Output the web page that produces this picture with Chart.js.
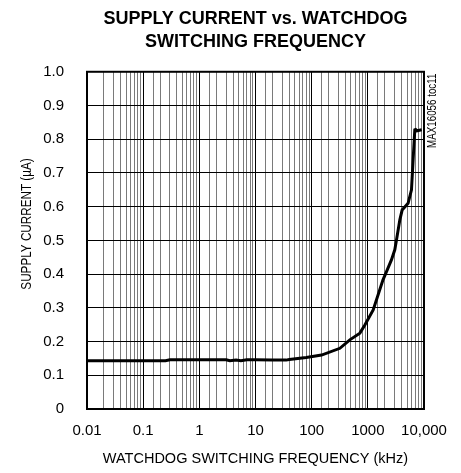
<!DOCTYPE html>
<html>
<head>
<meta charset="utf-8">
<script src="https://cdn.jsdelivr.net/npm/chart.js@4/dist/chart.umd.min.js"></script>
<style>
html,body{margin:0;padding:0;background:#fff;}
#wrap{width:461px;height:473px;position:relative;}
</style>
</head>
<body>
<div id="wrap"><canvas id="c" width="461" height="473"></canvas></div>
<script>
// ---- data ----
const frequencyKHz = [0.01, 0.03, 0.1, 0.25, 0.3, 1, 3, 3.5, 4.5, 5.5, 7, 10, 20, 35, 40, 80, 150, 318, 478, 721, 885, 1245, 1862, 2207, 2630, 3020, 3236, 3715, 4080, 5210, 5985, 6400, 6860, 7100, 7500, 9100];
const supplyCurrentUA = [0.143, 0.143, 0.143, 0.143, 0.146, 0.146, 0.146, 0.143, 0.145, 0.143, 0.146, 0.146, 0.145, 0.145, 0.147, 0.153, 0.160, 0.180, 0.205, 0.225, 0.249, 0.294, 0.383, 0.412, 0.442, 0.472, 0.501, 0.561, 0.590, 0.610, 0.650, 0.739, 0.828, 0.829, 0.825, 0.828];
const xDecades = [0.01, 0.1, 1, 10, 100, 1000, 10000];
const xTickLabels = ['0.01', '0.1', '1', '10', '100', '1000', '10,000'];
const yTickLabels = ['0', '0.1', '0.2', '0.3', '0.4', '0.5', '0.6', '0.7', '0.8', '0.9', '1.0'];
const chartTitle = ['SUPPLY CURRENT vs. WATCHDOG', 'SWITCHING FREQUENCY'];
const xTitle = 'WATCHDOG SWITCHING FREQUENCY (kHz)';
const yTitle = 'SUPPLY CURRENT (\u00b5A)';
const sideNote = 'MAX16056 toc11';

const REG = '"Liberation Sans", Arial, sans-serif';

function decadeIndex(v) {
  for (let i = 0; i < xDecades.length; i++) {
    if (Math.abs(v / xDecades[i] - 1) < 1e-6) return i;
  }
  return -1;
}

const framePlugin = {
  id: 'frame',
  afterDatasetsDraw(chart) {
    const a = chart.chartArea, ctx = chart.ctx;
    ctx.save();
    ctx.strokeStyle = '#000';
    ctx.lineWidth = 2;
    ctx.strokeRect(a.left, a.top, a.right - a.left, a.bottom - a.top);
    ctx.restore();
  },
  afterDraw(chart) {
    const a = chart.chartArea, ctx = chart.ctx;
    // y axis title (condensed along its length)
    ctx.save();
    ctx.fillStyle = '#000';
    ctx.translate(27, 224);
    ctx.rotate(-Math.PI / 2);
    ctx.scale(0.78, 1);
    ctx.textAlign = 'center';
    ctx.textBaseline = 'middle';
    ctx.font = '15px ' + REG;
    ctx.fillText(yTitle, 0, 0);
    ctx.restore();
    // side note
    ctx.save();
    ctx.fillStyle = '#000';
    ctx.translate(a.right + 8.5, a.top + 39);
    ctx.rotate(-Math.PI / 2);
    ctx.scale(0.815, 1);
    ctx.textAlign = 'center';
    ctx.textBaseline = 'middle';
    ctx.font = '12px ' + REG;
    ctx.fillText(sideNote, 0, 0);
    ctx.restore();
  }
};

new Chart(document.getElementById('c'), {
  type: 'line',
  data: {
    datasets: [{
      data: frequencyKHz.map((f, i) => ({x: f, y: supplyCurrentUA[i]})),
      borderColor: '#000',
      borderWidth: 3,
      pointRadius: 0,
      tension: 0,
      fill: false
    }]
  },
  options: {
    responsive: false,
    animation: false,
    layout: {padding: {left: 0, right: 37, top: 0, bottom: 0}},
    plugins: {
      legend: {display: false},
      tooltip: {enabled: false},
      title: {
        display: true,
        text: chartTitle,
        fullSize: false,
        color: '#000',
        font: {family: REG, weight: 'bold', size: 18, lineHeight: 1.28},
        padding: {top: 7.7, bottom: 18}
      }
    },
    scales: {
      x: {
        type: 'logarithmic',
        min: 0.01,
        max: 10000,
        afterFit(s) { s.height = 64; },
        border: {display: false},
        grid: {
          drawTicks: false,
          lineWidth: 1,
          color: (c) => decadeIndex(c.tick.value) >= 0 ? '#000' : '#7a7a7a'
        },
        ticks: {
          autoSkip: false,
          maxRotation: 0,
          minRotation: 0,
          padding: 13,
          color: '#000',
          font: {family: REG, size: 15},
          callback: (v) => { const i = decadeIndex(v); return i >= 0 ? xTickLabels[i] : ''; }
        },
        title: {
          display: true,
          text: xTitle,
          color: '#000',
          font: {family: REG, size: 14.5},
          padding: {top: 0, bottom: 5.3}
        }
      },
      y: {
        min: 0,
        max: 1,
        afterFit(s) { s.width = 87; },
        border: {display: false},
        grid: {drawTicks: false, color: '#000', lineWidth: 1},
        ticks: {
          stepSize: 0.1,
          padding: 23,
          color: '#000',
          font: {family: REG, size: 15},
          callback: (v) => yTickLabels[Math.round(v * 10)]
        }
      }
    }
  },
  plugins: [framePlugin]
});
</script>
</body>
</html>
